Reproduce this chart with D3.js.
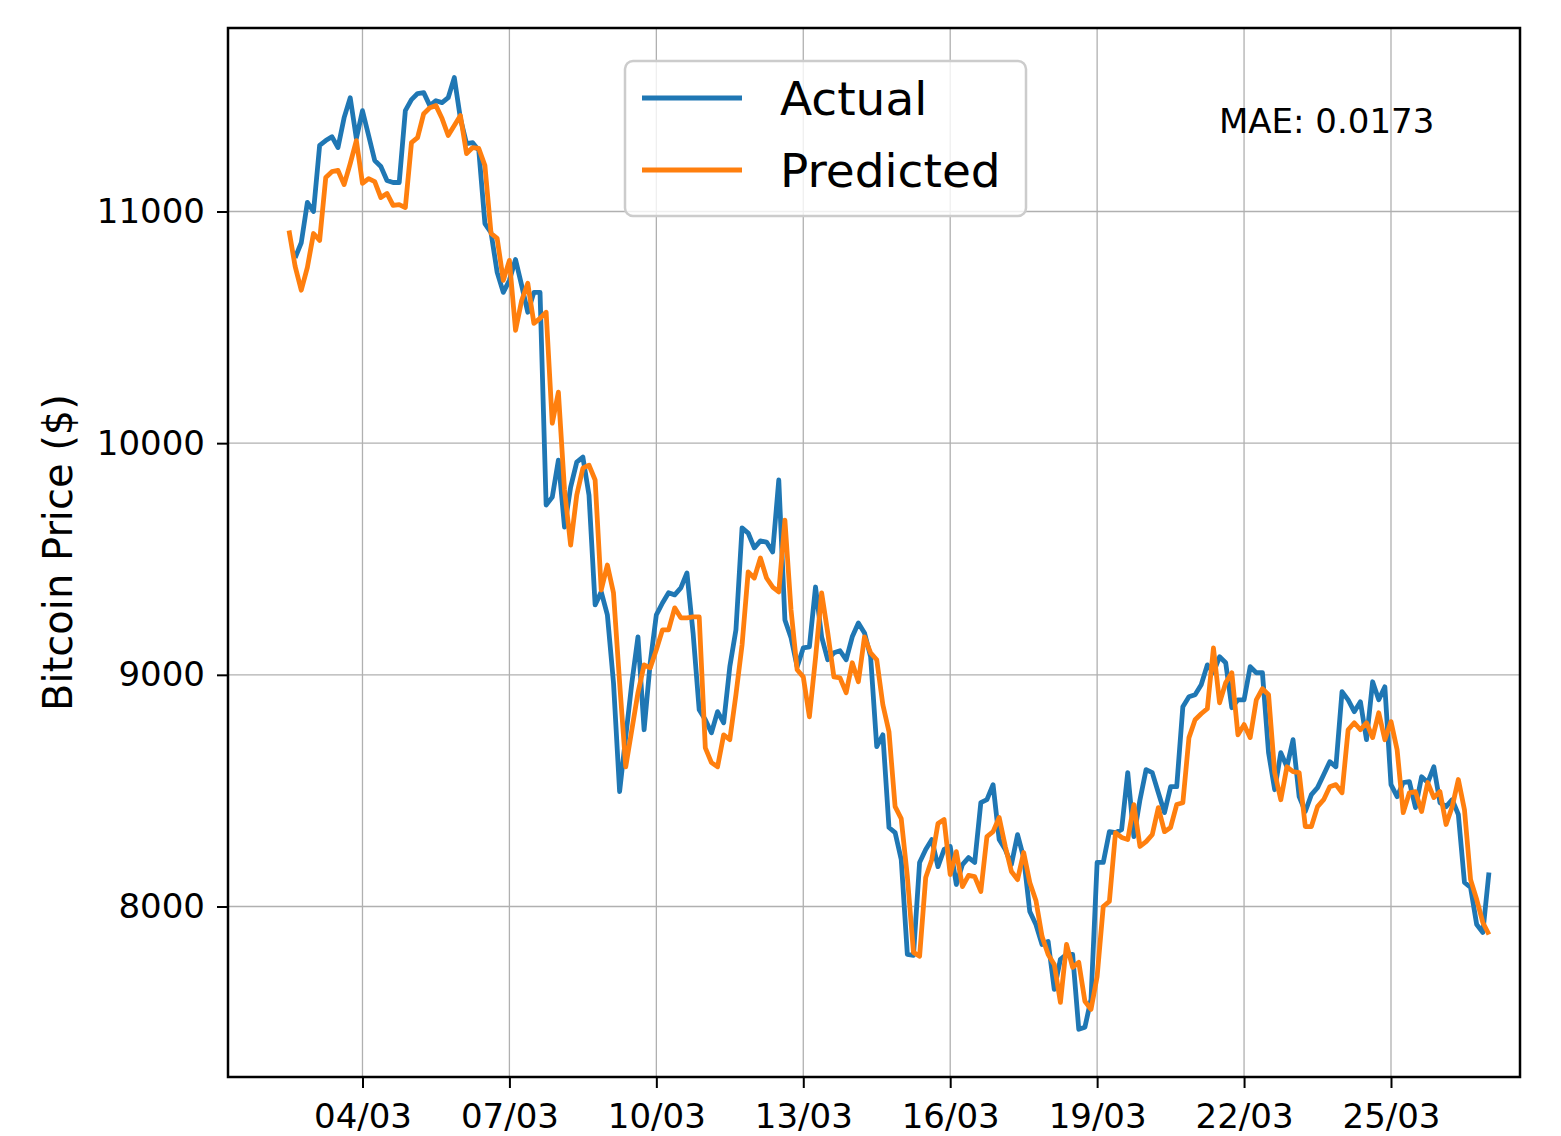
<!DOCTYPE html>
<html>
<head>
<meta charset="utf-8">
<script src="https://cdn.jsdelivr.net/npm/d3@7"></script>
<style>
  html, body { margin: 0; padding: 0; background: #fff; }
  svg { display: block; font-family: "DejaVu Sans", sans-serif; }
</style>
</head>
<body>
<svg id="chart" width="1561" height="1136"></svg>
<script>
// 3-hourly BTC closes, 2 March 12:00 UTC to 27 March 00:00 UTC (2018)
const seriesStart = "2018-03-02T12:00:00Z";
const stepHours = 3;

const actual = [
  null, 10800, 10865, 11039, 11000, 11285, 11306, 11323, 11276, 11405,
  11491, 11315, 11435, 11328, 11220, 11194, 11134, 11125, 11125, 11435,
  11483, 11509, 11513, 11457, 11478, 11470, 11491, 11578, 11401, 11293,
  11297, 11263, 10948, 10909, 10737, 10651, 10703, 10793, 10681, 10565,
  10651, 10651, 9733, 9767, 9927, 9638, 9810, 9918, 9940, 9776,
  9302, 9358, 9259, 8966, 8496, 8733, 8966, 9164, 8763, 9052,
  9259, 9310, 9354, 9345, 9375, 9440, 9181, 8849, 8806, 8750,
  8841, 8793, 9035, 9194, 9634, 9612, 9548, 9578, 9573, 9530,
  9841, 9237, 9160, 9035, 9116, 9121, 9379, 9164, 9065, 9095,
  9104, 9065, 9164, 9224, 9181, 9078, 8690, 8741, 8341, 8319,
  8203, 7793, 7789, 8190, 8246, 8289, 8172, 8246, 8259, 8095,
  8181, 8211, 8190, 8448, 8461, 8526, 8289, 8246, 8181, 8310,
  8211, 7978, 7922, 7836, 7849, 7642, 7772, 7793, 7793, 7470,
  7479, 7599, 8190, 8190, 8323, 8319, 8332, 8578, 8302, 8461,
  8591, 8578, 8491, 8405, 8517, 8517, 8862, 8905, 8914, 8957,
  9043, 9009, 9078, 9052, 8858, 8892, 8892, 9035, 9009, 9009,
  8664, 8504, 8664, 8603, 8720, 8474, 8410, 8483, 8513, 8569,
  8625, 8603, 8927, 8892, 8841, 8884, 8720, 8970, 8892, 8948,
  8526, 8474, 8535, 8539, 8427, 8560, 8535, 8603, 8448, 8431,
  8461, 8397, 8104, 8082, 7922, 7888, 8147
];

const predicted = [
  10918, 10763, 10660, 10759, 10905, 10875, 11147, 11172, 11177, 11116,
  11207, 11306, 11121, 11142, 11129, 11060, 11078, 11026, 11030, 11017,
  11297, 11319, 11422, 11448, 11457, 11401, 11328, 11371, 11414, 11250,
  11276, 11272, 11198, 10905, 10884, 10703, 10789, 10487, 10616, 10690,
  10517, 10539, 10565, 10086, 10220, 9798, 9560, 9776, 9892, 9905,
  9841, 9366, 9474, 9354, 8966, 8603, 8763, 8923, 9043, 9030,
  9108, 9194, 9194, 9289, 9246, 9246, 9250, 9250, 8685, 8621,
  8603, 8741, 8720, 8914, 9129, 9444, 9418, 9504, 9418, 9379,
  9358, 9668, 9280, 9022, 8991, 8819, 9073, 9354, 9181, 8991,
  8987, 8923, 9052, 8970, 9164, 9095, 9065, 8871, 8754, 8431,
  8379, 8129, 7802, 7785, 8125, 8203, 8358, 8375, 8138, 8237,
  8086, 8134, 8129, 8065, 8302, 8323, 8384, 8259, 8151, 8116,
  8233, 8104, 8026, 7871, 7793, 7750, 7586, 7836, 7737, 7759,
  7591, 7556, 7698, 8000, 8022, 8319, 8298, 8289, 8440, 8259,
  8280, 8310, 8427, 8323, 8341, 8440, 8448, 8729, 8806, 8832,
  8854, 9116, 8879, 8966, 9009, 8741, 8785, 8729, 8892, 8940,
  8914, 8578, 8461, 8603, 8582, 8578, 8345, 8345, 8431, 8461,
  8517, 8526, 8491, 8763, 8793, 8763, 8793, 8729, 8836, 8720,
  8798, 8677, 8405, 8491, 8496, 8410, 8535, 8470, 8496, 8354,
  8431, 8548, 8418, 8116, 8030, 7931, 7879
];

const xTickLabels = ["04/03", "07/03", "10/03", "13/03", "16/03", "19/03", "22/03", "25/03"];
const yTickValues = [8000, 9000, 10000, 11000];
const xDomain = ["2018-03-01T06:06:00Z", "2018-03-27T15:13:00Z"];
const yDomain = [7264, 11792];
const seriesNames = ["Actual", "Predicted"];
const seriesColors = ["#1f77b4", "#ff7f0e"];
const maeText = "MAE: 0.0173";

const svg = d3.select("#chart");
const plot = { left: 228, right: 1520, top: 28, bottom: 1077 };

const t0 = new Date(seriesStart);
const times = actual.map((_, i) => d3.utcHour.offset(t0, stepHours * i));

const x = d3.scaleUtc()
  .domain(xDomain.map(s => new Date(s)))
  .range([plot.left, plot.right]);
const y = d3.scaleLinear().domain(yDomain).range([plot.bottom, plot.top]);

const parseTick = d3.utcParse("%d/%m/%Y");
const xTickDates = xTickLabels.map(s => parseTick(s + "/2018"));

// grid
const grid = svg.append("g").attr("stroke", "#b0b0b0").attr("stroke-width", 1.3);
grid.selectAll("line.gx").data(xTickDates).join("line")
  .attr("x1", d => x(d)).attr("x2", d => x(d))
  .attr("y1", plot.top).attr("y2", plot.bottom);
grid.selectAll("line.gy").data(yTickValues).join("line")
  .attr("x1", plot.left).attr("x2", plot.right)
  .attr("y1", d => y(d)).attr("y2", d => y(d));

// series
const line = d3.line()
  .defined(d => d.v != null)
  .x(d => x(d.t)).y(d => y(d.v));

[actual, predicted].forEach((vals, k) => {
  svg.append("path")
    .datum(vals.map((v, i) => ({ t: times[i], v })))
    .attr("fill", "none")
    .attr("stroke", seriesColors[k])
    .attr("stroke-width", 4.8)
    .attr("stroke-linejoin", "round")
    .attr("d", line);
});

// axes
const xAxis = d3.axisBottom(x)
  .tickValues(xTickDates)
  .tickFormat(d3.utcFormat("%d/%m"))
  .tickSize(11).tickPadding(16);
const yAxis = d3.axisLeft(y)
  .tickValues(yTickValues)
  .tickFormat(d3.format("d"))
  .tickSize(11).tickPadding(12);

const gx = svg.append("g").attr("transform", `translate(0,${plot.bottom})`).call(xAxis);
const gy = svg.append("g").attr("transform", `translate(${plot.left},0)`).call(yAxis);
[gx, gy].forEach(g => {
  g.select(".domain").remove();
  g.selectAll(".tick line").attr("stroke", "#000").attr("stroke-width", 2);
  g.selectAll(".tick text")
    .attr("fill", "#000")
    .style("font-family", "'DejaVu Sans', sans-serif")
    .style("font-size", "34px");
});

// frame
svg.append("rect")
  .attr("x", plot.left).attr("y", plot.top)
  .attr("width", plot.right - plot.left).attr("height", plot.bottom - plot.top)
  .attr("fill", "none").attr("stroke", "#000").attr("stroke-width", 2.5);

// y-axis title
svg.append("text")
  .attr("transform", `translate(72,${(plot.top + plot.bottom) / 2}) rotate(-90)`)
  .attr("text-anchor", "middle")
  .style("font-size", "40px")
  .text("Bitcoin Price ($)");

// legend
const lg = svg.append("g");
lg.append("rect")
  .attr("x", 625).attr("y", 61).attr("width", 401).attr("height", 155)
  .attr("rx", 8).attr("ry", 8)
  .attr("fill", "#fff").attr("fill-opacity", 0.8)
  .attr("stroke", "#cccccc").attr("stroke-width", 2.5);
seriesNames.forEach((name, k) => {
  const cy = 98 + k * 72;
  lg.append("line")
    .attr("x1", 642).attr("x2", 742).attr("y1", cy).attr("y2", cy)
    .attr("stroke", seriesColors[k]).attr("stroke-width", 4.8);
  lg.append("text")
    .attr("x", 780).attr("y", cy + 17)
    .style("font-size", "47px")
    .text(name);
});

// error annotation
svg.append("text")
  .attr("x", 1219).attr("y", 133)
  .style("font-size", "34px")
  .text(maeText);
</script>
</body>
</html>
